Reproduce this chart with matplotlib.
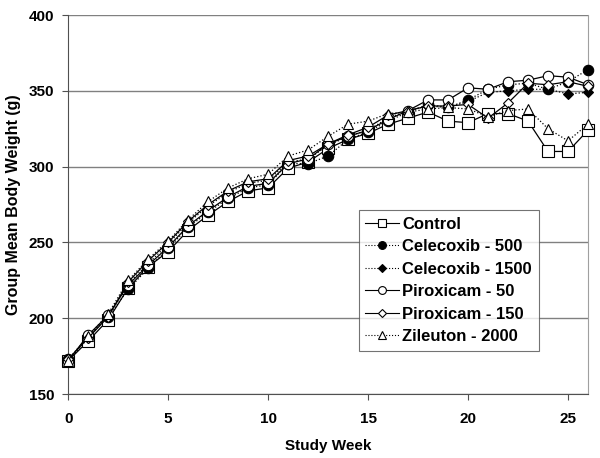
import matplotlib
matplotlib.use('Agg')
import matplotlib.pyplot as plt

plt.rcParams['font.family'] = ['Liberation Sans', 'DejaVu Sans']
plt.rcParams['font.weight'] = 'bold'

weeks = list(range(27))

control = [172, 185, 199, 220, 234, 244, 258, 268, 277, 284, 286, 299, 303, 312, 318, 322,
           328, 332, 336, 330, 329, 335, 335, 330, 310, 310, 324]
celecoxib_500 = [173, 188, 201, 219, 233, 246, 260, 270, 279, 286, 288, 302, 302, 307, 318, 323,
                 330, 336, 341, 339, 344, 351, 354, 355, 351, 356, 364]
celecoxib_1500 = [172, 187, 202, 223, 236, 249, 263, 274, 283, 289, 291, 303, 305, 314, 320, 324,
                  332, 337, 340, 339, 343, 349, 350, 351, 351, 348, 349]
piroxicam_50 = [172, 189, 202, 222, 235, 247, 261, 271, 280, 287, 289, 302, 305, 315, 320, 324,
                331, 337, 344, 344, 352, 351, 356, 357, 360, 359, 354]
piroxicam_150 = [173, 187, 201, 224, 238, 250, 264, 275, 284, 290, 292, 304, 307, 315, 321, 326,
                 334, 337, 340, 340, 341, 332, 342, 355, 354, 356, 353]
zileuton_2000 = [172, 188, 203, 225, 239, 251, 265, 277, 286, 292, 295, 307, 311, 320, 328, 330,
                 335, 336, 338, 339, 338, 333, 337, 338, 325, 317, 328]

labels = ['Control', 'Celecoxib - 500', 'Celecoxib - 1500',
          'Piroxicam - 50', 'Piroxicam - 150', 'Zileuton - 2000']
series = [control, celecoxib_500, celecoxib_1500, piroxicam_50, piroxicam_150, zileuton_2000]
# (marker, filled, linestyle, size)
styles = [('s', False, '-', 8),
          ('o', True, ':', 7.5),
          ('D', True, ':', 5.5),
          ('o', False, '-', 7.5),
          ('D', False, '-', 5.5),
          ('^', False, ':', 7.5)]

fig = plt.figure(figsize=(6, 4.58), dpi=100)
ax = fig.add_axes([0.1138, 0.1397, 0.8662, 0.8275])

for data, lab, (mk, filled, ls, ms) in zip(series, labels, styles):
    ax.plot(weeks, data, color='black', linestyle=ls, linewidth=0.9,
            marker=mk, markersize=ms, markeredgecolor='black', markeredgewidth=0.8,
            markerfacecolor='black' if filled else 'white', label=lab,
            clip_on=False, zorder=3)

ax.set_xlim(0, 26)
ax.set_ylim(150, 400)
ax.set_xticks([0, 5, 10, 15, 20, 25])
ax.set_yticks([150, 200, 250, 300, 350, 400])
ax.yaxis.grid(True, color='#808080', linewidth=1)
ax.set_axisbelow(True)
ax.spines['top'].set_visible(False)
for s in ['left', 'bottom']:
    ax.spines[s].set_color('#505050')
ax.spines['right'].set_color('#a0a0a0')
ax.tick_params(axis='both', direction='out', length=4, color='#505050',
               labelsize=11)
ax.tick_params(axis='x', pad=9)
ax.tick_params(axis='y', pad=6)
for t in ax.get_xticklabels() + ax.get_yticklabels():
    t.set_fontweight('bold')

ax.set_xlabel('Study Week', fontsize=11, fontweight='bold', labelpad=9)
ax.set_ylabel('Group Mean Body Weight (g)', fontsize=11.5, fontweight='bold', labelpad=6)

leg = ax.legend(loc='upper left', bbox_to_anchor=(0.559, 0.124, 0.346, 0.3615),
                mode='expand', fontsize=12, frameon=True, fancybox=False,
                handlelength=2.0, handletextpad=0.2, borderpad=0.4,
                labelspacing=0.45, markerscale=0.75, borderaxespad=0)
leg.get_frame().set_edgecolor('#505050')
leg.get_frame().set_linewidth(0.8)
leg.set_zorder(5)
for t in leg.get_texts():
    t.set_fontweight('bold')
for h in leg.legend_handles:
    h.set_linewidth(0.8)

fig.savefig('out.png', dpi=100)
